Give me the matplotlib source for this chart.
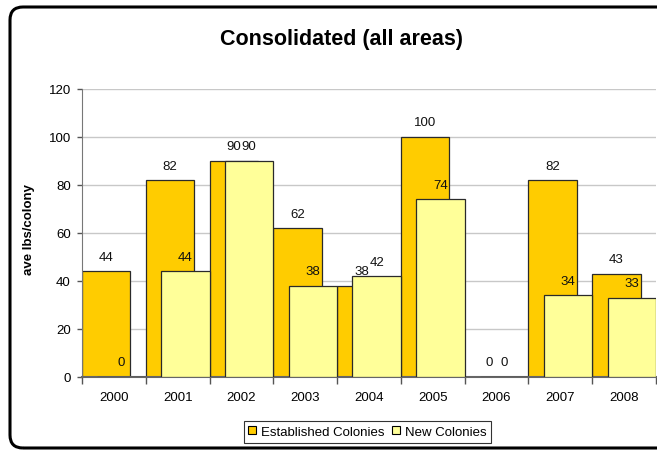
import matplotlib
matplotlib.use("Agg")
import matplotlib.pyplot as plt
from matplotlib.patches import FancyBboxPatch, Patch
from matplotlib.transforms import IdentityTransform
import numpy as np

years = ["2000", "2001", "2002", "2003", "2004", "2005", "2006", "2007", "2008"]
established = [44, 82, 90, 62, 38, 100, 0, 82, 43]
new_colonies = [0, 44, 90, 38, 42, 74, 0, 34, 33]
yticks = [0, 20, 40, 60, 80, 100, 120]

plt.rcParams['font.family'] = ['Liberation Sans', 'DejaVu Sans']

W, H = 657, 452
fig = plt.figure(figsize=(W / 100, H / 100), dpi=100)
fig.patch.set_facecolor('white')

# outer rounded frame (pixel coords)
frame = FancyBboxPatch((10, 3), 680, 441, boxstyle="round,pad=0,rounding_size=13",
                       transform=IdentityTransform(), fill=False, edgecolor='black',
                       linewidth=2.2, zorder=10)
fig.patches.append(frame)

ax = fig.add_axes([82 / W, 74 / H, (656 - 82) / W, (378 - 90) / H])
ax.set_facecolor('white')

x = np.arange(len(years))
bw = 0.76
off = 0.24
EST = '#FFCC00'
NEW = '#FFFF99'
EDGE = '#2a2a2a'
FS = 9.5

ax.bar(x, established, width=bw, align='edge', color=EST, edgecolor=EDGE,
       linewidth=0.9, zorder=2)
ax.bar(x + off, new_colonies, width=bw, align='edge', color=NEW, edgecolor=EDGE,
       linewidth=0.9, zorder=3)

for xi, v in zip(x, established):
    ax.annotate(f"{v}", (xi + bw / 2, v), xytext=(0, 10.5), textcoords='offset points',
                ha='center', va='center', fontsize=FS, color='#111111', zorder=5)
for xi, v in zip(x, new_colonies):
    ax.annotate(f"{v}", (xi + off + bw / 2, v), xytext=(0, 10.5), textcoords='offset points',
                ha='center', va='center', fontsize=FS, color='#111111', zorder=5)

ax.set_xlim(0, len(years))
ax.set_ylim(0, 120)
ax.set_yticks(yticks)
ax.set_yticklabels([str(t) for t in yticks], fontsize=FS)
ax.yaxis.grid(True, color='#c8c8c8', linewidth=1.0, zorder=0)
ax.set_axisbelow(True)

ax.set_xticks(np.arange(len(years) + 1))
ax.set_xticklabels([])
ax.set_xticks(x + 0.5, minor=True)
ax.set_xticklabels(years, minor=True, fontsize=FS)
ax.tick_params(axis='x', which='major', length=5, width=1, color='#555555', direction='out')
ax.tick_params(axis='x', which='minor', length=0, pad=10)
ax.tick_params(axis='y', length=3.5, width=1, color='#555555', direction='out', pad=4.5)

for s in ['top', 'right']:
    ax.spines[s].set_visible(False)
ax.spines['left'].set_color('#777777')
ax.spines['bottom'].set_color('#666666')
ax.spines['bottom'].set_linewidth(1.5)

ax.set_ylabel('ave lbs/colony', fontsize=9.5, fontweight='bold')
ax.yaxis.set_label_coords(-(82 - 35) / (656 - 82), 0.5 + 4.5 / 288)

fig.text(341 / W, 1 - 39 / H, 'Consolidated (all areas)', ha='center', va='center',
         fontsize=15.5, fontweight='bold', color='black')

handles = [Patch(facecolor=EST, edgecolor='black', linewidth=0.8),
           Patch(facecolor=NEW, edgecolor='black', linewidth=0.8)]
leg = fig.legend(handles, ['Established Colonies', 'New Colonies'], loc='center',
                 bbox_to_anchor=(367.5 / W, 1 - 433 / H), ncol=2, fontsize=FS,
                 frameon=True, fancybox=False, shadow=False, handlelength=0.55,
                 handleheight=0.55, handletextpad=0.4, columnspacing=0.6,
                 borderpad=0.35, borderaxespad=0)
leg.get_frame().set_edgecolor('black')
leg.get_frame().set_linewidth(0.8)

fig.savefig('out.png', dpi=100, facecolor='white')
